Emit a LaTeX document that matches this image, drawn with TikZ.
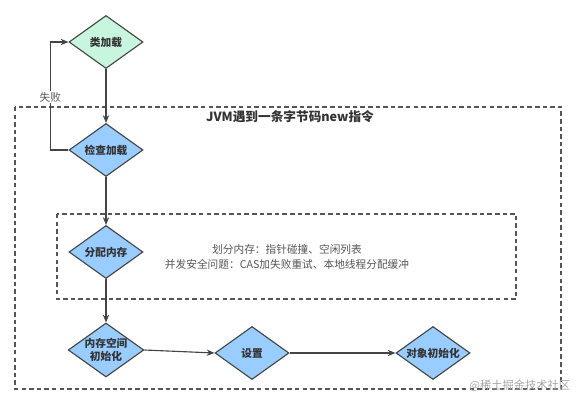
\documentclass[tikz,border=0pt]{standalone}
\usepackage{fontspec}
\newfontfamily\cjk{Noto Sans CJK SC}
\usetikzlibrary{shapes.geometric,arrows.meta}
\definecolor{stepgreen}{HTML}{C8F5DD}
\definecolor{stepblue}{HTML}{99CCFF}
\definecolor{edgegray}{HTML}{444444}
\definecolor{notegray}{HTML}{555555}
\tikzset{
  stepnode/.style={draw=edgegray, line width=0.8pt, shape=diamond, aspect=1.4,
    inner sep=0pt, minimum width=1.85cm, minimum height=1.325cm, align=center,
    font=\cjk\bfseries\fontsize{7.6}{9.4}\selectfont, text=black!80},
  flow/.style={draw=edgegray, line width=0.8pt, -{Stealth[length=5.5pt,width=4.5pt]}},
  groupbox/.style={draw=notegray, line width=0.8pt, dash pattern=on 3.2pt off 2.2pt}
}
\begin{document}
\begin{tikzpicture}[x=0.025cm, y=-0.025cm, font=\cjk]
\useasboundingbox (0,0) rectangle (576,405);
% dashed frames
\draw[groupbox] (15,107) rectangle (561,389);
\draw[groupbox] (57,214) rectangle (516,299);
\node[font=\cjk\bfseries\fontsize{9}{11}\selectfont, text=black!80] (title) at (290,117) {JVM遇到一条字节码new指令};
% steps
\node[stepnode, fill=stepgreen] (load) at (106,42) {类加载};
\node[stepnode, fill=stepblue] (check) at (106,150) {检查加载};
\node[stepnode, fill=stepblue] (alloc) at (106,252) {分配内存};
\node[stepnode, fill=stepblue] (zero) at (106,350) {内存空间\\初始化};
\node[stepnode, fill=stepblue] (setup) at (252,353) {设置};
\node[stepnode, fill=stepblue] (init) at (433,353) {对象初始化};
\node[align=center, text=notegray, font=\cjk\fontsize{7.6}{10.4}\selectfont] (note) at (287,257)
  {划分内存：指针碰撞、空闲列表\\并发安全问题：CAS加失败重试、本地线程分配缓冲};
% arrows
\draw[flow] (load) -- (check);
\draw[flow] (check.west) -- ++(-18,0) |- node[pos=0.245, fill=white, inner sep=1pt, text=notegray, font=\cjk\fontsize{7.6}{9}\selectfont] {失败} (load.west);
\draw[flow] (check) -- (alloc);
\draw[flow] (alloc) -- (zero);
\draw[flow] (zero.east) -- (setup.west);
\draw[flow] (setup) -- (init);
\node[text=black!35, font=\cjk\fontsize{8}{9}\selectfont, anchor=east] (mark) at (575,386) {@稀土掘金技术社区};
\end{tikzpicture}
\end{document}
